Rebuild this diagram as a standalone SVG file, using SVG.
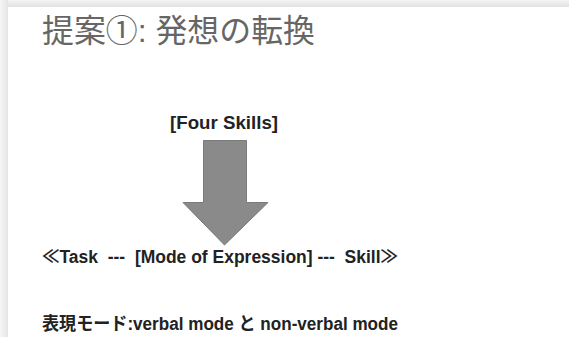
<svg xmlns="http://www.w3.org/2000/svg" width="569" height="337" viewBox="0 0 569 337">
<defs>
<linearGradient id="topShade" x1="0" y1="0" x2="0" y2="1">
<stop offset="0" stop-color="#f4f4f4"/>
<stop offset="1" stop-color="#e2e2e2"/>
</linearGradient>
<linearGradient id="leftShade" x1="0" y1="0" x2="1" y2="0">
<stop offset="0" stop-color="#f6f6f6"/>
<stop offset="1" stop-color="#e4e4e4"/>
</linearGradient>
</defs>
<style>
.title{font-family:"Liberation Sans","Noto Sans CJK JP",sans-serif;font-size:32px;fill:#666;}
.body{font-family:"Liberation Sans","Noto Sans CJK JP",sans-serif;font-size:18px;font-weight:bold;fill:#222;}
.arrow{fill:#8a8a8a;stroke:#7a7a7a;stroke-width:1;}
</style>
<rect x="0" y="0" width="569" height="337" fill="#ffffff"/>
<rect x="0" y="0" width="569" height="7" fill="url(#topShade)"/>
<rect x="0" y="0" width="8" height="337" fill="url(#leftShade)"/>
<g id="title">
<text class="title" x="42" y="42" textLength="273" lengthAdjust="spacingAndGlyphs">提案①: 発想の転換</text>
</g>
<g id="four-skills">
<text class="body" x="170" y="129" textLength="108" lengthAdjust="spacingAndGlyphs">[Four Skills]</text>
</g>
<g id="connectors">
<polygon class="arrow" points="203.5,140.5 246.5,140.5 246.5,202.5 268,202.5 224.5,245 183,202.5 203.5,202.5"/>
</g>
<g id="task-line">
<text class="body" x="42" y="263" xml:space="preserve" textLength="356" lengthAdjust="spacingAndGlyphs">≪Task  ---  [Mode of Expression] ---  Skill≫</text>
</g>
<g id="mode-line">
<text class="body" x="42" y="330" textLength="356" lengthAdjust="spacingAndGlyphs">表現モード:verbal mode と non-verbal mode</text>
</g>
</svg>
